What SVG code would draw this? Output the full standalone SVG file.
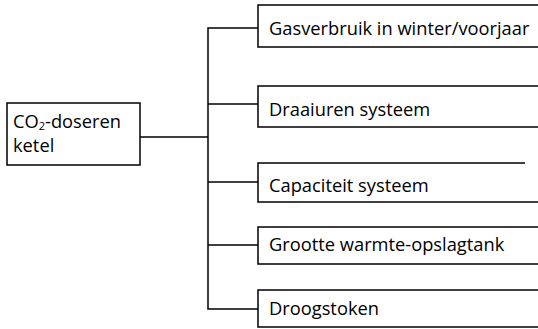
<svg xmlns="http://www.w3.org/2000/svg" width="538" height="329" viewBox="0 0 538 329">
<style>
.box{fill:#fff;stroke:#000;stroke-width:1.5}
.ln{fill:none;stroke:#000;stroke-width:1.5}
text{font-family:"Open Sans","Liberation Sans",sans-serif;font-size:18.3px;fill:#000}
</style>
<rect width="538" height="329" fill="#fff"/>
<g id="connectors">
<path class="ln" d="M140 137H208"/>
<path class="ln" d="M258 28H208V309H258"/>
<path class="ln" d="M208 104H258"/>
<path class="ln" d="M208 182H258"/>
<path class="ln" d="M208 245H258"/>
</g>
<g id="n0">
<rect class="box" x="7" y="103" width="133" height="62"/>
<text x="13" y="128" font-size="17.5">CO<tspan font-size="11" dy="2">2</tspan><tspan dy="-2">-doseren</tspan><tspan x="13" dy="24">ketel</tspan></text>
</g>
<g id="n1">
<path class="box" d="M540 5H258V47H540"/>
<text x="269" y="35">Gasverbruik in winter/voorjaar</text>
</g>
<g id="n2">
<path class="box" d="M540 86H258V127H540"/>
<text x="269" y="116">Draaiuren systeem</text>
</g>
<g id="n3">
<path class="box" d="M525 163H258V202H540"/>
<text x="269" y="192">Capaciteit systeem</text>
</g>
<g id="n4">
<path class="box" d="M540 227H258V264H540"/>
<text x="269" y="251">Grootte warmte-opslagtank</text>
</g>
<g id="n5">
<path class="box" d="M540 290H258V327H540"/>
<text x="269" y="315">Droogstoken</text>
</g>
</svg>
